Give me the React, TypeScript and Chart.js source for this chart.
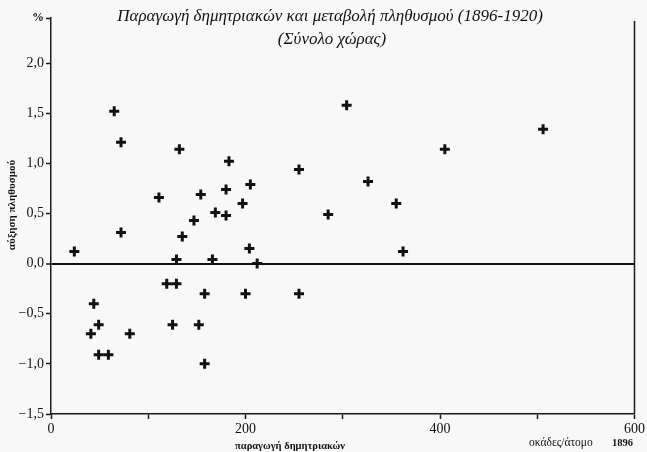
import React, { useEffect, useRef } from 'react';
import { Chart, registerables } from 'chart.js';

Chart.register(...registerables);

const xValues = [24, 65, 72, 72, 111, 132, 135, 129, 147, 154, 169, 180, 180, 183, 197, 205, 204, 166, 212, 255, 304, 285, 326, 355, 362, 405, 506, 119, 129, 158, 200, 255, 44, 49, 41, 81, 125, 152, 49, 59, 158];
const yValues = [0.12, 1.52, 1.21, 0.31, 0.66, 1.14, 0.27, 0.04, 0.43, 0.69, 0.51, 0.48, 0.74, 1.02, 0.6, 0.79, 0.15, 0.04, 0.0, 0.94, 1.58, 0.49, 0.82, 0.6, 0.12, 1.14, 1.34, -0.2, -0.2, -0.3, -0.3, -0.3, -0.4, -0.61, -0.7, -0.7, -0.61, -0.61, -0.91, -0.91, -1.0];
const yTickValues = [-1.5, -1, -0.5, 0, 0.5, 1, 1.5, 2, 2.45];
const xTickLabels = ['0', '200', '400', '600'];
const titleLines = ['Παραγωγή δημητριακών και μεταβολή πληθυσμού (1896-1920)', '(Σύνολο χώρας)'];
const yTitle = 'αύξηση πληθυσμού';
const xTitle = 'παραγωγή δημητριακών';
const unitLabel = 'οκάδες/άτομο';
const unitYear = '1896';

const SERIF = '"Liberation Serif", "DejaVu Serif", serif';

const decor = {
  id: 'decor',
  beforeDraw(chart: any) {
    const { ctx, width, height } = chart;
    ctx.save();
    ctx.fillStyle = '#f8f8f8';
    ctx.fillRect(0, 0, width, height);
    ctx.restore();
  },
  afterDraw(chart: any) {
    const { ctx, chartArea } = chart;
    ctx.save();
    ctx.strokeStyle = '#1a1a1a';
    ctx.lineWidth = 1.5;
    ctx.beginPath();
    ctx.moveTo(chartArea.right, 21);
    ctx.lineTo(chartArea.right, chartArea.bottom);
    ctx.stroke();

    ctx.fillStyle = '#111';
    ctx.textAlign = 'center';
    ctx.textBaseline = 'middle';
    ctx.font = 'italic 17px ' + SERIF;
    ctx.fillText(titleLines[0], 330, 17);
    ctx.fillText(titleLines[1], 332, 40);

    ctx.font = 'bold 10.5px ' + SERIF;
    ctx.fillText(xTitle, 290, 446);

    ctx.textAlign = 'left';
    ctx.font = '11.5px ' + SERIF;
    ctx.fillText(unitLabel, 529, 443);
    ctx.font = 'bold 10.5px ' + SERIF;
    ctx.fillText(unitYear, 612, 443);

    ctx.translate(12, 205);
    ctx.rotate(-Math.PI / 2);
    ctx.textAlign = 'center';
    ctx.font = 'bold 11px ' + SERIF;
    ctx.fillText(yTitle, 0, 0);
    ctx.restore();
  },
};

const fmt = (v: number) => {
  if (v > 2.2) return '%';
  return v.toFixed(1).replace('.', ',').replace('-', '\u2212');
};

export default function App() {
  const ref = useRef<HTMLCanvasElement | null>(null);
  useEffect(() => {
    document.body.style.margin = '0';
    const canvas = ref.current!;
    const chart = new Chart(canvas, {
      type: 'scatter',
      data: {
        datasets: [
          {
            data: xValues.map((x, i) => ({ x, y: yValues[i] })),
            pointStyle: 'cross',
            radius: 5,
            borderWidth: 3,
            borderColor: '#111',
            backgroundColor: '#111',
          },
        ],
      },
      options: {
        animation: false,
        responsive: false,
        devicePixelRatio: 1,
        layout: { padding: { top: 18, right: 11, left: 0, bottom: 0 } },
        plugins: { legend: { display: false }, tooltip: { enabled: false }, title: { display: false } },
        scales: {
          x: {
            type: 'linear',
            min: 0,
            max: 600,
            ticks: {
              stepSize: 100,
              color: '#111',
              font: { family: SERIF, size: 14 },
              padding: 2,
              maxRotation: 0,
              autoSkip: false,
              callback: (v: any) => (xTickLabels.includes(String(v)) ? String(v) : ''),
            },
            grid: { display: true, drawOnChartArea: false, tickLength: 5, tickColor: '#1a1a1a', tickWidth: 1.5 },
            border: { display: true, color: '#1a1a1a', width: 1.5 },
            afterFit: (s: any) => {
              s.height = 38;
            },
          },
          y: {
            type: 'linear',
            min: -1.5,
            max: 2.45,
            afterBuildTicks: (s: any) => {
              s.ticks = yTickValues.map((v) => ({ value: v }));
            },
            ticks: {
              color: '#111',
              font: (c: any) =>
                c.tick && c.tick.value > 2.2
                  ? { family: SERIF, size: 12, weight: 'bold' }
                  : { family: SERIF, size: 14 },
              padding: 2,
              callback: (v: any) => fmt(Number(v)),
            },
            grid: {
              display: true,
              drawOnChartArea: true,
              tickLength: 5,
              color: (c: any) => (c.tick && c.tick.value === 0 ? '#111' : 'rgba(0,0,0,0)'),
              lineWidth: (c: any) => (c.tick && c.tick.value === 0 ? 2 : 1),
              tickColor: '#1a1a1a',
              tickWidth: 1.5,
            },
            border: { display: true, color: '#1a1a1a', width: 1.5 },
            afterFit: (s: any) => {
              s.width = 51;
            },
          },
        },
      },
      plugins: [decor],
    });
    return () => chart.destroy();
  }, []);
  return (
    <div style={{ position: 'absolute', left: 0, top: 0, width: 647, height: 452 }}>
      <canvas ref={ref} width={647} height={452} style={{ width: 647, height: 452 }} />
    </div>
  );
}
